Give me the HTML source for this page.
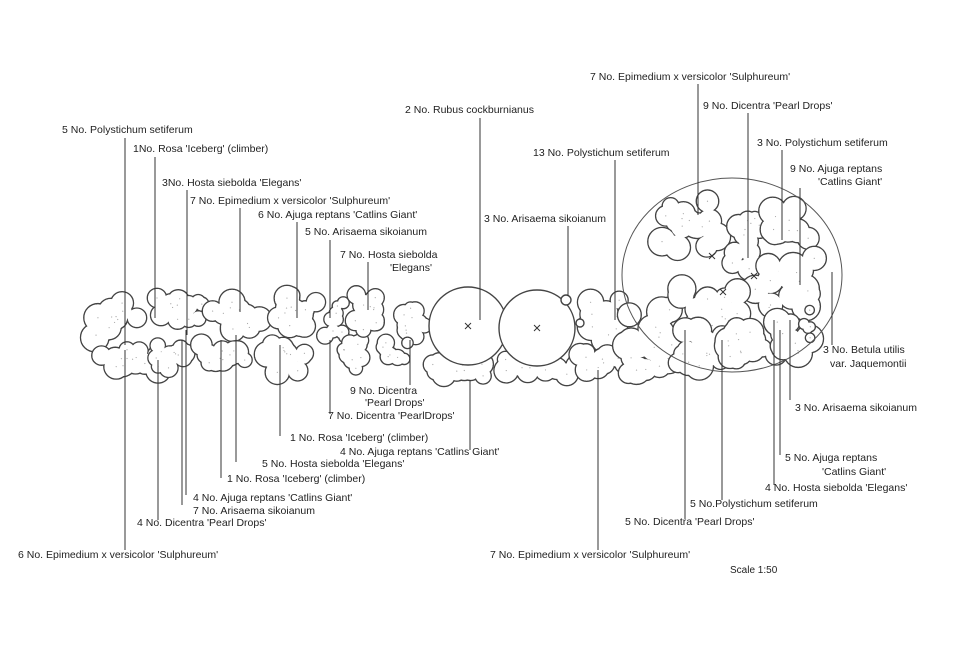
<!DOCTYPE html>
<html><head><meta charset="utf-8">
<style>
html,body{margin:0;padding:0;background:#fff;}
svg{display:block;}
text{font-family:"Liberation Sans",sans-serif;font-size:10.5px;fill:#222;}
</style></head><body>
<svg id="s" width="959" height="645" viewBox="0 0 959 645" xmlns="http://www.w3.org/2000/svg">
<g id="shapes"></g>
<ellipse cx="732" cy="275" rx="110" ry="97" fill="none" stroke="#555" stroke-width="1"/>
<g id="lines" stroke="#333" stroke-width="1"></g>
<g id="txt">
<text x="590" y="80">7 No. Epimedium x versicolor 'Sulphureum'</text>
<text x="405" y="113">2 No. Rubus cockburnianus</text>
<text x="703" y="109">9 No. Dicentra 'Pearl Drops'</text>
<text x="62" y="133">5 No. Polystichum setiferum</text>
<text x="533" y="156">13 No. Polystichum setiferum</text>
<text x="757" y="146">3 No. Polystichum setiferum</text>
<text x="133" y="152">1No. Rosa 'Iceberg' (climber)</text>
<text x="790" y="172">9 No. Ajuga reptans</text>
<text x="818" y="185">'Catlins Giant'</text>
<text x="162" y="186">3No. Hosta siebolda 'Elegans'</text>
<text x="190" y="204">7 No. Epimedium x versicolor 'Sulphureum'</text>
<text x="258" y="218">6 No. Ajuga reptans 'Catlins Giant'</text>
<text x="484" y="222">3 No. Arisaema sikoianum</text>
<text x="305" y="235">5 No. Arisaema sikoianum</text>
<text x="340" y="258">7 No. Hosta siebolda</text>
<text x="390" y="271">'Elegans'</text>
<text x="823" y="353">3 No. Betula utilis</text>
<text x="830" y="367">var. Jaquemontii</text>
<text x="795" y="411">3 No. Arisaema sikoianum</text>
<text x="785" y="461">5 No. Ajuga reptans</text>
<text x="822" y="475">'Catlins Giant'</text>
<text x="765" y="491">4 No. Hosta siebolda 'Elegans'</text>
<text x="690" y="507">5 No.Polystichum setiferum</text>
<text x="625" y="525">5 No. Dicentra 'Pearl Drops'</text>
<text x="490" y="558">7 No. Epimedium x versicolor 'Sulphureum'</text>
<text x="730" y="573" style="font-size:10px">Scale 1:50</text>
<text x="350" y="394">9 No. Dicentra</text>
<text x="365" y="406">'Pearl Drops'</text>
<text x="328" y="419">7 No. Dicentra 'PearlDrops'</text>
<text x="290" y="441">1 No. Rosa 'Iceberg' (climber)</text>
<text x="340" y="455">4 No. Ajuga reptans 'Catlins Giant'</text>
<text x="262" y="467">5 No. Hosta siebolda 'Elegans'</text>
<text x="227" y="482">1 No. Rosa 'Iceberg' (climber)</text>
<text x="193" y="501">4 No. Ajuga reptans 'Catlins Giant'</text>
<text x="193" y="514">7 No. Arisaema sikoianum</text>
<text x="137" y="526">4 No. Dicentra 'Pearl Drops'</text>
<text x="18" y="558">6 No. Epimedium x versicolor 'Sulphureum'</text>
</g>
</svg>
<script>
var NS="http://www.w3.org/2000/svg",g=document.getElementById("shapes"),L=document.getElementById("lines");
var seed=7;function r(){seed=(seed*9301+49297)%233280;return seed/233280;}
function c(par,x,y,rad,st){var e=document.createElementNS(NS,"circle");e.setAttribute("cx",x);e.setAttribute("cy",y);e.setAttribute("r",rad);
 e.setAttribute("fill","#fff");if(st){e.setAttribute("stroke","#444");e.setAttribute("stroke-width","1.4");}
 par.appendChild(e);}
function cl(x,y,w,h,n,rr){var P=[];for(var i=0;i<n;i++)P.push([x+(r()-.5)*w,y+(r()-.5)*h,rr*(0.7+r()*0.5)]);
 for(var i=0;i<n/2;i++)P.push([x+(r()-.5)*w*0.5,y+(r()-.5)*h*0.5,rr]);
 var gg=document.createElementNS(NS,"g");g.appendChild(gg);
 P.forEach(function(p){c(gg,p[0],p[1],p[2],true);});
 P.forEach(function(p){c(gg,p[0],p[1],p[2]-0.7,false);});
 P.forEach(function(p,i){if(i%2)return;var d=document.createElementNS(NS,"circle");d.setAttribute("cx",p[0]);d.setAttribute("cy",p[1]);d.setAttribute("r",0.6);d.setAttribute("fill","#aaa");gg.appendChild(d);});}
function ln(x1,y1,x2,y2){var e=document.createElementNS(NS,"line");e.setAttribute("x1",x1);e.setAttribute("y1",y1);e.setAttribute("x2",x2);e.setAttribute("y2",y2);L.appendChild(e);}
var C=[[115,320,45,40,12,12],[130,360,60,25,12,11],[180,310,55,25,10,10],[175,355,40,30,8,9],[235,315,50,30,10,11],[225,358,50,30,10,10],[295,310,45,35,10,11],[285,358,50,30,10,11],[335,322,20,40,6,7],[355,355,30,30,8,9],[365,315,40,40,10,10],[410,320,30,45,8,9],[395,355,25,25,6,8],[455,368,60,20,10,10],[540,368,80,25,12,11],[600,320,40,40,8,12],[605,362,50,25,8,11],[650,340,60,70,14,14],[690,225,60,50,12,12],[750,240,40,60,10,10],[790,225,40,35,8,12],[785,285,60,55,12,13],[710,310,60,45,12,12],[700,350,50,40,10,12],[750,345,60,35,12,12],[790,340,40,40,8,12],[808,325,10,30,4,5]];
C.forEach(function(a){cl.apply(null,a);});
c(g,468,326,39,true);c(g,537,328,38,true);c(g,566,300,5,true);c(g,580,323,4,true);
[[468,326],[537,328],[712,256],[754,276],[723,292]].forEach(function(p){ln(p[0]-3,p[1]-3,p[0]+3,p[1]+3);ln(p[0]-3,p[1]+3,p[0]+3,p[1]-3);});
[[125,138,125,345],[155,157,155,318],[187,190,187,335],[240,208,240,312],[297,222,297,318],[330,240,330,318],[368,262,368,310],[480,118,480,320],[568,226,568,296],[615,160,615,320],[698,84,698,215],[748,113,748,258],[782,150,782,240],[800,188,800,285],[832,272,832,345],
[125,350,125,550],[158,360,158,520],[182,340,182,505],[186,330,186,495],[221,340,221,478],[236,335,236,462],[280,345,280,436],[330,340,330,414],[410,340,410,385],[470,380,470,450],[598,370,598,550],[685,330,685,519],[722,340,722,500],[774,320,774,485],[780,330,780,455],[790,320,790,400]].forEach(function(a){ln.apply(null,a);});
</script>
</body></html>
